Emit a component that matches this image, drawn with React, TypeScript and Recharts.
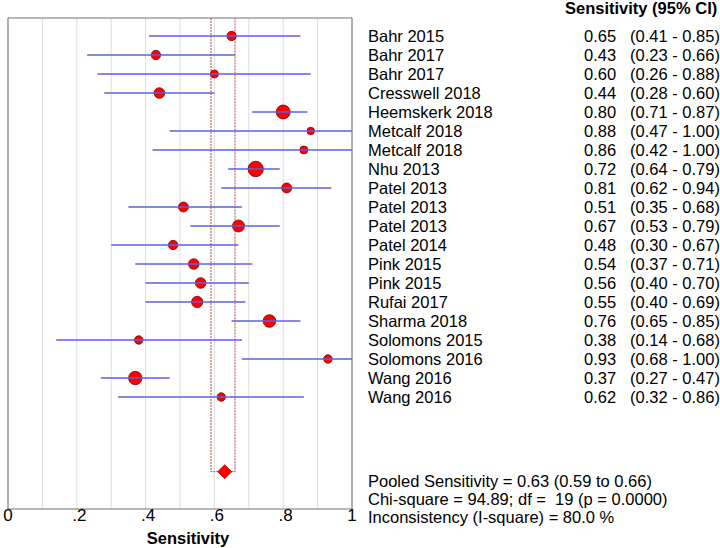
import React from 'react';
import {
  ScatterChart,
  Scatter,
  XAxis,
  YAxis,
  ZAxis,
  CartesianGrid,
  ReferenceArea,
} from 'recharts';

const studies = [
  'Bahr 2015', 'Bahr 2017', 'Bahr 2017', 'Cresswell 2018', 'Heemskerk 2018',
  'Metcalf 2018', 'Metcalf 2018', 'Nhu 2013', 'Patel 2013', 'Patel 2013',
  'Patel 2013', 'Patel 2014', 'Pink 2015', 'Pink 2015', 'Rufai 2017',
  'Sharma 2018', 'Solomons 2015', 'Solomons 2016', 'Wang 2016', 'Wang 2016',
];
const sensitivity = [0.65, 0.43, 0.60, 0.44, 0.80, 0.88, 0.86, 0.72, 0.81, 0.51, 0.67, 0.48, 0.54, 0.56, 0.55, 0.76, 0.38, 0.93, 0.37, 0.62];
const lowerCI = [0.41, 0.23, 0.26, 0.28, 0.71, 0.47, 0.42, 0.64, 0.62, 0.35, 0.53, 0.30, 0.37, 0.40, 0.40, 0.65, 0.14, 0.68, 0.27, 0.32];
const upperCI = [0.85, 0.66, 0.88, 0.60, 0.87, 1.00, 1.00, 0.79, 0.94, 0.68, 0.79, 0.67, 0.71, 0.70, 0.69, 0.85, 0.68, 1.00, 0.47, 0.86];
const weights = [22, 22, 16, 28, 49, 14, 16, 59, 25, 25, 36, 22, 28, 28, 32, 40, 18, 18, 45, 18];

const pooled = { est: 0.63, lo: 0.59, hi: 0.66 };
const xTicks = [0, 0.1, 0.2, 0.3, 0.4, 0.5, 0.6, 0.7, 0.8, 0.9, 1];
const rowTicks = studies.map((_, i) => i);
const POOLED_ROW = 22.93;
const TOP_ROW = -0.947368;
const BOTTOM_ROW = 24.894737;

const FONT = '"Liberation Sans", Arial, sans-serif';

const rows = studies.map((name, i) => ({
  y: i,
  x: sensitivity[i],
  w: weights[i],
}));

const ciSegments = studies.map((_, i) => [
  { x: lowerCI[i], y: i },
  { x: upperCI[i], y: i },
]);

const pooledBracket = [
  { x: pooled.lo, y: TOP_ROW },
  { x: pooled.lo, y: POOLED_ROW },
  { x: pooled.hi, y: POOLED_ROW },
  { x: pooled.hi, y: TOP_ROW },
];
const pooledPoint = [{ x: pooled.est, y: POOLED_ROW }];

const fmtTick = (v: number) => {
  const k = Math.round(v * 10);
  if (k % 2 !== 0) return '';
  if (k === 0) return '0';
  if (k === 10) return '1';
  return '.' + k;
};

const XTick = (props: any) => {
  const { x, y, payload } = props;
  const label = fmtTick(payload.value);
  if (!label) return null;
  const dx = label.startsWith('.') ? 2.5 : 0;
  return (
    <text x={x + dx} y={y + 12} textAnchor="middle" fontSize={17} fill="#000" style={{ fontFamily: FONT }}>
      {label}
    </text>
  );
};

const RowTick = (props: any) => {
  const { x, y, payload } = props;
  const i = payload.value;
  if (i < 0 || i >= studies.length) return null;
  const base = y + 6;
  return (
    <g style={{ fontFamily: FONT, fontSize: 16.5 }} fill="#000">
      <text x={x + 16} y={base}>{studies[i]}</text>
      <text x={x + 232} y={base}>{sensitivity[i].toFixed(2)}</text>
      <text x={x + 278} y={base}>{`(${lowerCI[i].toFixed(2)} - ${upperCI[i].toFixed(2)})`}</text>
    </g>
  );
};

const Dot = (props: any) => {
  const { cx, cy, size } = props;
  const r = Math.sqrt((size || 0) / Math.PI);
  return <circle cx={cx} cy={cy} r={r} fill="#ff0000" stroke="#7a0000" strokeWidth={0.8} />;
};

const Diamond = (props: any) => {
  const { cx, cy } = props;
  const h = 7;
  return (
    <polygon
      points={`${cx - h},${cy} ${cx},${cy - h} ${cx + h},${cy} ${cx},${cy + h}`}
      fill="#ff0000"
      stroke="#b00000"
      strokeWidth={0.8}
    />
  );
};

const Nothing = () => <g />;

export default function App() {
  return (
    <div style={{ position: 'absolute', left: 0, top: 0, width: 720, height: 548, background: '#fff' }}>
      <ScatterChart width={720} height={548} margin={{ top: 18, right: 0, bottom: 0, left: 8 }}>
        <CartesianGrid horizontal={false} stroke="#dddddd" />
        <XAxis
          type="number"
          dataKey="x"
          domain={[0, 1]}
          allowDataOverflow
          ticks={xTicks}
          height={39}
          tickLine={false}
          axisLine={false}
          tickSize={0}
          tickMargin={0}
          interval={0}
          tick={<XTick />}
        />
        <YAxis
          type="number"
          dataKey="y"
          orientation="right"
          domain={[TOP_ROW, BOTTOM_ROW]}
          allowDataOverflow
          reversed
          ticks={rowTicks}
          interval={0}
          width={368}
          tickLine={false}
          axisLine={false}
          tickSize={0}
          tickMargin={0}
          tick={<RowTick />}
        />
        <ZAxis type="number" dataKey="w" domain={[0, 59]} range={[0, 185]} />
        <ReferenceArea x1={0} x2={1} y1={TOP_ROW} y2={BOTTOM_ROW} fill="none" fillOpacity={0} stroke="#707070" strokeWidth={1} />
        <Scatter
          data={pooledBracket}
          shape={<Nothing />}
          line={{ stroke: '#b04848', strokeDasharray: '2 1', strokeWidth: 1 }}
          lineType="joint"
          isAnimationActive={false}
        />
        <Scatter data={rows} shape={<Dot />} isAnimationActive={false} />
        {ciSegments.map((seg, i) => (
          <Scatter
            key={'ci' + i}
            data={seg}
            shape={<Nothing />}
            line={{ stroke: '#5f5fe0', strokeWidth: 1.5 }}
            lineType="joint"
            isAnimationActive={false}
          />
        ))}
        <Scatter data={pooledPoint} shape={<Diamond />} isAnimationActive={false} />
      </ScatterChart>
      <svg
        width={720}
        height={548}
        style={{ position: 'absolute', left: 0, top: 0, pointerEvents: 'none', fontFamily: FONT }}
      >
        <text x={565} y={14} fontSize={16.5} fontWeight="bold" fill="#000">Sensitivity (95% CI)</text>
        <text x={188} y={544} fontSize={16.5} fontWeight="bold" textAnchor="middle" fill="#000">Sensitivity</text>
        <text x={368} y={487} fontSize={16.5} fill="#000" style={{ whiteSpace: 'pre' }}>Pooled Sensitivity = 0.63 (0.59 to 0.66)</text>
        <text x={368} y={505} fontSize={16.5} fill="#000" style={{ whiteSpace: 'pre' }}>Chi-square = 94.89; df =  19 (p = 0.0000)</text>
        <text x={368} y={523} fontSize={16.5} fill="#000" style={{ whiteSpace: 'pre' }}>Inconsistency (I-square) = 80.0 %</text>
      </svg>
    </div>
  );
}
